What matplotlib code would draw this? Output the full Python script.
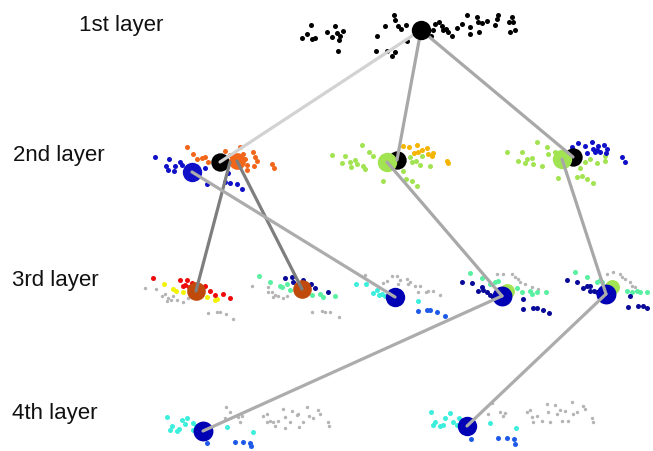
import matplotlib
matplotlib.use("Agg")
import matplotlib.pyplot as plt

plt.rcParams['font.family'] = ['Liberation Sans', 'DejaVu Sans']

# ---- colours ----
BLACK = "#000000"
ORANGE = "#F2661A"
BLUE2 = "#1010C8"
LGREEN = "#A2E352"
GOLD = "#F5B400"
NAVY = "#0A0A9A"
RED = "#F00A0A"
YELLOW = "#F2F20A"
GRAY = "#B4B4B4"
BROWN = "#C04A0C"
MINT = "#5AF0A2"
CYAN = "#3CEEDC"
ROYAL = "#1E5AE8"
NODE_BLUE = "#0000B4"

# ---- layer labels ----
layer_labels = ["1st layer", "2nd layer", "3rd layer", "4th layer"]
label_x = [79, 13, 12, 12]
label_y = [31, 161, 286, 419]

# ---- 1st layer samples ----
l1_x = [302, 307, 311, 312, 315, 327, 332, 335, 337, 340, 339, 343, 338,
        377, 376, 385, 387, 392, 395, 394, 395, 398, 401, 406, 407,
        431, 433, 435, 439, 442, 443, 446, 448, 452, 457, 462, 467, 470, 470,
        477, 478, 479, 482, 487, 495, 498, 497, 510, 512, 513, 515, 509]
l1_y = [39, 35, 26, 40, 39, 33, 38, 27, 34, 37, 41, 32, 52,
        37, 52, 27, 52, 57, 53, 16, 21, 27, 30, 26, 42,
        37, 31, 25, 23, 27, 31, 30, 33, 37, 29, 25, 16, 28, 35,
        18, 23, 33, 24, 22, 26, 16, 20, 33, 18, 23, 31, 23]

# ---- 2nd layer, left cluster ----
l2a_blue_x = [155, 166, 169, 168, 175, 180, 182, 174, 205, 207, 228, 225, 230, 237, 242]
l2a_blue_y = [158, 167, 160, 171, 167, 163, 166, 172, 169, 185, 174, 183, 184, 185, 190]
l2a_orange_x = [187, 193, 197, 202, 205, 208, 225, 230, 240, 243, 245, 247, 253, 255,
                257, 254, 247, 272, 274, 233, 238]
l2a_orange_y = [148, 155, 160, 159, 158, 163, 152, 156, 148, 155, 160, 166, 153, 158,
                162, 167, 171, 165, 169, 161, 163]

# ---- 2nd layer, middle cluster ----
l2b_green_x = [332, 345, 342, 350, 351, 355, 357, 362, 363, 365, 369, 373, 383,
               403, 406, 412, 417, 410, 412, 416, 420, 430, 422]
l2b_green_y = [156, 157, 164, 163, 168, 161, 165, 146, 167, 170, 153, 157, 182,
               172, 180, 182, 187, 158, 163, 162, 166, 167, 157]
l2b_gold_x = [403, 409, 417, 418, 422, 427, 428, 433, 432, 447, 448, 414]
l2b_gold_y = [147, 148, 146, 153, 151, 149, 155, 154, 157, 162, 164, 154]

# ---- 2nd layer, right cluster ----
l2c_green_x = [507, 518, 522, 525, 527, 532, 533, 537, 542, 547, 548, 555, 558,
               577, 582, 587, 593, 580, 585, 590, 597, 605, 605]
l2c_green_y = [153, 162, 153, 164, 160, 159, 165, 143, 167, 148, 155, 153, 179,
               178, 177, 180, 184, 169, 163, 160, 164, 162, 157]
l2c_blue_x = [572, 578, 585, 587, 592, 593, 595, 598, 597, 604, 607, 606, 622, 625, 600]
l2c_blue_y = [148, 144, 147, 154, 143, 150, 153, 147, 151, 146, 150, 154, 158, 163, 153]

# ---- 3rd layer, cluster A ----
l3a_red_x = [153, 180, 185, 187, 183, 192, 205, 210, 215, 223, 230, 189]
l3a_red_y = [279, 281, 286, 281, 287, 284, 287, 292, 296, 295, 299, 288]
l3a_yellow_x = [164, 173, 176, 183, 197, 202, 207, 215, 217]
l3a_yellow_y = [285, 290, 292, 293, 293, 293, 298, 301, 300]
l3a_gray_x = [145, 156, 162, 165, 168, 171, 173, 177, 183, 188, 167, 208, 217, 220, 226, 233]
l3a_gray_y = [289, 290, 297, 295, 299, 301, 297, 301, 303, 299, 302, 314, 313, 313, 315, 320]

# ---- 3rd layer, cluster B ----
l3b_mint_x = [259, 270, 280, 287, 290, 303, 307, 312, 320, 323, 335, 282]
l3b_mint_y = [277, 283, 287, 285, 291, 292, 291, 296, 295, 298, 297, 288]
l3b_navy_x = [285, 292, 303, 311, 315, 328, 293]
l3b_navy_y = [279, 278, 281, 285, 289, 293, 283]
l3b_gray_x = [252, 268, 272, 275, 278, 283, 287, 273, 312, 322, 325, 330, 339, 268]
l3b_gray_y = [287, 293, 293, 296, 297, 299, 297, 298, 313, 312, 313, 313, 318, 288]

# ---- 3rd layer, cluster C ----
l3c_cyan_x = [356, 366, 373, 377, 382, 385, 379, 393, 418]
l3c_cyan_y = [285, 285, 294, 291, 295, 297, 296, 298, 302]
l3c_gray_x = [365, 392, 397, 398, 400, 407, 408, 410, 415, 420, 418, 426, 428, 433, 440, 387, 383]
l3c_gray_y = [276, 277, 277, 285, 281, 280, 285, 283, 287, 287, 293, 293, 292, 292, 296, 282, 284]
l3c_royal_x = [418, 427, 430, 437, 445]
l3c_royal_y = [312, 311, 311, 313, 317]

# ---- 3rd layer, cluster D ----
l3d_navy_x = [462, 472, 478, 483, 487, 490, 493, 482, 523, 523, 533, 537, 543, 549]
l3d_navy_y = [283, 284, 292, 291, 293, 296, 298, 288, 300, 310, 309, 309, 311, 314]
l3d_mint_x = [470, 482, 490, 495, 498, 517, 522, 530, 532, 537, 546]
l3d_mint_y = [274, 279, 285, 283, 282, 289, 293, 292, 295, 293, 293]
l3d_gray_x = [497, 503, 512, 515, 518, 520, 525, 532, 538]
l3d_gray_y = [275, 275, 275, 278, 280, 283, 285, 288, 290]

# ---- 3rd layer, cluster E ----
l3e_navy_x = [567, 577, 583, 587, 590, 594, 597, 600, 630, 628, 638, 643, 647, 590]
l3e_navy_y = [281, 283, 289, 287, 292, 292, 293, 295, 297, 308, 307, 307, 309, 287]
l3e_mint_x = [575, 587, 597, 600, 602, 627, 632, 637, 640, 647]
l3e_mint_y = [273, 278, 283, 281, 283, 292, 293, 292, 293, 293]
l3e_gray_x = [607, 613, 620, 622, 625, 630, 632, 635]
l3e_gray_y = [275, 273, 275, 278, 280, 283, 287, 288]

# ---- 4th layer, left cluster ----
l4a_cyan_x = [167, 172, 170, 177, 179, 182, 185, 187, 193, 196, 193, 199, 227, 253]
l4a_cyan_y = [418, 427, 431, 432, 430, 421, 425, 419, 424, 427, 431, 433, 428, 433]
l4a_royal_x = [207, 235, 243, 250, 251]
l4a_royal_y = [444, 443, 443, 444, 447]
l4a_gray_x = [226, 230, 225, 238, 240, 242, 263, 267, 267, 270, 273, 275, 278, 283, 285,
              285, 290, 292, 297, 298, 299, 303, 307, 309, 313, 318, 320, 328, 329]
l4a_gray_y = [408, 413, 419, 418, 423, 417, 417, 415, 423, 422, 423, 427, 422, 410, 418,
              429, 423, 412, 416, 415, 428, 423, 408, 417, 419, 411, 415, 423, 427]

# ---- 4th layer, right cluster ----
l4b_cyan_x = [431, 435, 433, 440, 443, 445, 450, 453, 457, 459, 462, 490, 516]
l4b_cyan_y = [413, 423, 426, 427, 426, 419, 414, 423, 426, 419, 427, 424, 429]
l4b_royal_x = [471, 498, 507, 514, 515]
l4b_royal_y = [440, 439, 439, 440, 445]
l4b_gray_x = [488, 492, 500, 505, 503, 527, 530, 532, 533, 537, 542, 547, 548, 550, 555,
              557, 560, 562, 565, 568, 572, 573, 577, 583, 585, 592, 593]
l4b_gray_y = [415, 404, 413, 414, 417, 413, 411, 418, 423, 417, 422, 405, 413, 423, 406,
              415, 411, 422, 412, 422, 403, 415, 413, 407, 410, 419, 423]

# ---- cluster centre nodes ----
node_x = [421, 220, 237, 192, 397, 387, 573, 562, 196, 302, 395, 507, 502, 612, 606, 203, 467]
node_y = [31, 163, 162, 173, 161, 163, 158, 160, 292, 290, 298, 292, 297, 288, 295, 432, 427]
node_c = [BLACK, BLACK, ORANGE, BLUE2, BLACK, LGREEN, BLACK, LGREEN,
          BROWN, BROWN, NODE_BLUE, LGREEN, NODE_BLUE, LGREEN, NODE_BLUE,
          NODE_BLUE, NODE_BLUE]
node_s = [195, 175, 145, 195, 175, 195, 175, 195, 180, 180, 195, 115, 205, 115, 205, 205, 195]

# ---- tree edges (start x, start y, end x, end y) ----
edge_x0 = [421, 421, 421, 230, 237, 192, 387, 562, 502, 606]
edge_y0 = [31, 31, 31, 163, 162, 173, 163, 160, 297, 295]
edge_x1 = [220, 397, 573, 196, 302, 395, 502, 606, 203, 467]
edge_y1 = [163, 161, 158, 292, 290, 298, 297, 295, 432, 427]
edge_c = ["#D2D2D2", "#A8A8A8", "#A8A8A8", "#7E7E7E", "#7E7E7E",
          "#ACACAC", "#A8A8A8", "#A8A8A8", "#ACACAC", "#ACACAC"]

fig = plt.figure(figsize=(6.53, 4.52), dpi=100)
ax = fig.add_axes([0, 0, 1, 1])
ax.set_xlim(0, 653)
ax.set_ylim(452, 0)
ax.axis("off")

SMALL = 13
TINY = 6

groups = [
    (l1_x, l1_y, BLACK, SMALL),
    (l2a_blue_x, l2a_blue_y, BLUE2, SMALL),
    (l2a_orange_x, l2a_orange_y, ORANGE, SMALL),
    (l2b_green_x, l2b_green_y, LGREEN, SMALL),
    (l2b_gold_x, l2b_gold_y, GOLD, SMALL),
    (l2c_green_x, l2c_green_y, LGREEN, SMALL),
    (l2c_blue_x, l2c_blue_y, BLUE2, SMALL),
    (l3a_gray_x, l3a_gray_y, GRAY, TINY),
    (l3a_yellow_x, l3a_yellow_y, YELLOW, SMALL),
    (l3a_red_x, l3a_red_y, RED, SMALL),
    (l3b_gray_x, l3b_gray_y, GRAY, TINY),
    (l3b_mint_x, l3b_mint_y, MINT, SMALL),
    (l3b_navy_x, l3b_navy_y, NAVY, SMALL),
    (l3c_gray_x, l3c_gray_y, GRAY, TINY),
    (l3c_cyan_x, l3c_cyan_y, CYAN, SMALL),
    (l3c_royal_x, l3c_royal_y, ROYAL, SMALL),
    (l3d_gray_x, l3d_gray_y, GRAY, TINY),
    (l3d_mint_x, l3d_mint_y, MINT, SMALL),
    (l3d_navy_x, l3d_navy_y, NAVY, SMALL),
    (l3e_gray_x, l3e_gray_y, GRAY, TINY),
    (l3e_mint_x, l3e_mint_y, MINT, SMALL),
    (l3e_navy_x, l3e_navy_y, NAVY, SMALL),
    (l4a_gray_x, l4a_gray_y, GRAY, TINY),
    (l4a_cyan_x, l4a_cyan_y, CYAN, SMALL),
    (l4a_royal_x, l4a_royal_y, ROYAL, SMALL),
    (l4b_gray_x, l4b_gray_y, GRAY, TINY),
    (l4b_cyan_x, l4b_cyan_y, CYAN, SMALL),
    (l4b_royal_x, l4b_royal_y, ROYAL, SMALL),
]
for gx, gy, col, sz in groups:
    ax.scatter(gx, gy, s=sz, c=col, linewidths=0, zorder=2)

# cluster centres (root drawn above its edges)
for i, (nx, ny, nc, ns) in enumerate(zip(node_x, node_y, node_c, node_s)):
    ax.scatter([nx], [ny], s=ns, c=nc, linewidths=0, zorder=5 if i == 0 else 3)

for x0, y0, x1, y1, c in zip(edge_x0, edge_y0, edge_x1, edge_y1, edge_c):
    ax.plot([x0, x1], [y0, y1], color=c, lw=2.3, solid_capstyle="round", zorder=4)

for txt, tx, ty in zip(layer_labels, label_x, label_y):
    ax.text(tx, ty, txt, fontsize=16, ha="left", va="baseline", color="#111111")

fig.savefig("out.png", dpi=100)
